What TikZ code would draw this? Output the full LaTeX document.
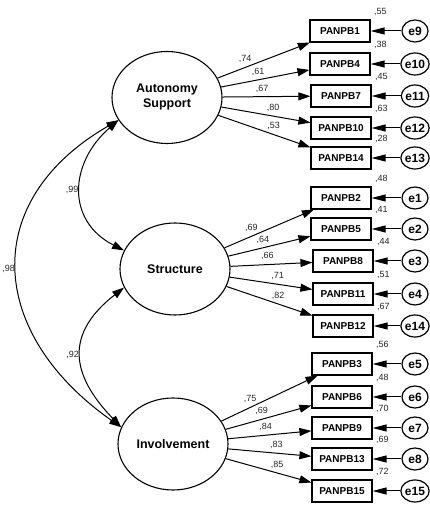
\documentclass[tikz,border=0pt]{standalone}
\usepackage{fontspec}
\setmainfont{Liberation Sans}
\usetikzlibrary{arrows.meta, shapes.geometric}
\tikzset{
  every picture/.style={line width=1pt},
  latent/.style={draw, ellipse, line width=1.1pt, minimum width=110pt, minimum height=92pt, inner sep=0pt, align=center, font=\fontsize{12.5}{15}\selectfont\bfseries},
  ind/.style={draw, line width=1.2pt, minimum width=60pt, minimum height=22pt, inner sep=0pt, font=\fontsize{10}{12}\selectfont\bfseries},
  err/.style={draw, ellipse, line width=1.2pt, minimum width=26pt, minimum height=22pt, inner sep=0pt, font=\fontsize{12}{14}\selectfont\bfseries},
  load/.style={-{Triangle[length=12pt, width=8pt]}},
  errtip/.style={-{Triangle[length=14pt, width=7pt]}},
  cov/.style={{Triangle[length=12pt, width=8pt]}-{Triangle[length=12pt, width=8pt]}},
  coef/.style={font=\fontsize{9}{10}\selectfont, text=black!85, inner sep=1pt, above=3pt},
  var/.style={font=\fontsize{9}{10}\selectfont, text=black!85, inner sep=1pt, anchor=south west, xshift=2pt, yshift=2pt},
  covlab/.style={font=\fontsize{9}{10}\selectfont, text=black!85, inner sep=2pt, left},
}

\begin{document}
\begin{tikzpicture}[x=1pt, y=1pt]
  \useasboundingbox (0,0) rectangle (429,505);
  % factors
  \node[latent] (as) at (167,407.5) {Autonomy\\Support};
  \node[latent] (st) at (175,236) {Structure};
  \node[latent] (inv) at (173,61) {Involvement};
  % autonomy support items
  \node[ind] (b1) at (340,474) {PANPB1};
  \node[ind] (b4) at (340,441) {PANPB4};
  \node[ind] (b7) at (341,409) {PANPB7};
  \node[ind] (b10) at (341,377) {PANPB10};
  \node[ind] (b14) at (341,347) {PANPB14};
  \node[err] (e9) at (415,474) {e9};
  \node[err] (e10) at (415,441) {e10};
  \node[err] (e11) at (415,409) {e11};
  \node[err] (e12) at (415,377) {e12};
  \node[err] (e13) at (415,347) {e13};
  \draw[load] (as) -- node[coef, pos=.3] {,74} (b1);
  \draw[load] (as) -- node[coef, pos=.42] {,61} (b4);
  \draw[load] (as) -- node[coef, pos=.45] {,67} (b7);
  \draw[load] (as) -- node[coef, pos=.58] {,80} (b10);
  \draw[load] (as) -- node[coef, pos=.6] {,53} (b14);
  % structure items
  \node[ind] (b2) at (341,307) {PANPB2};
  \node[ind] (b5) at (341,276) {PANPB5};
  \node[ind] (b8) at (343,244) {PANPB8};
  \node[ind] (b11) at (343,211) {PANPB11};
  \node[ind] (b12) at (343,179) {PANPB12};
  \node[err] (e1) at (415,307) {e1};
  \node[err] (e2) at (415,276) {e2};
  \node[err] (e3) at (415,244) {e3};
  \node[err] (e4) at (415,211) {e4};
  \node[err] (e14) at (415,179) {e14};
  \draw[load] (st) -- node[coef, pos=.3] {,69} (b2);
  \draw[load] (st) -- node[coef, pos=.42] {,64} (b5);
  \draw[load] (st) -- node[coef, pos=.45] {,66} (b8);
  \draw[load] (st) -- node[coef, pos=.58] {,71} (b11);
  \draw[load] (st) -- node[coef, pos=.6] {,82} (b12);
  % involvement items
  \node[ind] (b3) at (342,141) {PANPB3};
  \node[ind] (b6) at (342,108) {PANPB6};
  \node[ind] (b9) at (342,77) {PANPB9};
  \node[ind] (b13) at (342,46) {PANPB13};
  \node[ind] (b15) at (342,14) {PANPB15};
  \node[err] (e5) at (415,141) {e5};
  \node[err] (e6) at (415,108) {e6};
  \node[err] (e7) at (415,77) {e7};
  \node[err] (e8) at (415,46) {e8};
  \node[err] (e15) at (415,14) {e15};
  \draw[load] (inv) -- node[coef, pos=.3] {,75} (b3);
  \draw[load] (inv) -- node[coef, pos=.42] {,69} (b6);
  \draw[load] (inv) -- node[coef, pos=.45] {,84} (b9);
  \draw[load] (inv) -- node[coef, pos=.58] {,83} (b13);
  \draw[load] (inv) -- node[coef, pos=.6] {,85} (b15);
  % error terms
  \draw[errtip] (e9) -- (b1);
  \draw[errtip] (e10) -- (b4);
  \draw[errtip] (e11) -- (b7);
  \draw[errtip] (e12) -- (b10);
  \draw[errtip] (e13) -- (b14);
  \draw[errtip] (e1) -- (b2);
  \draw[errtip] (e2) -- (b5);
  \draw[errtip] (e3) -- (b8);
  \draw[errtip] (e4) -- (b11);
  \draw[errtip] (e14) -- (b12);
  \draw[errtip] (e5) -- (b3);
  \draw[errtip] (e6) -- (b6);
  \draw[errtip] (e7) -- (b9);
  \draw[errtip] (e8) -- (b13);
  \draw[errtip] (e15) -- (b15);
  % squared multiple correlations
  \node[var] at (b1.north east) {,55};
  \node[var] at (b4.north east) {,38};
  \node[var] at (b7.north east) {,45};
  \node[var] at (b10.north east) {,63};
  \node[var] at (b14.north east) {,28};
  \node[var] at (b2.north east) {,48};
  \node[var] at (b5.north east) {,41};
  \node[var] at (b8.north east) {,44};
  \node[var] at (b11.north east) {,51};
  \node[var] at (b12.north east) {,67};
  \node[var] at (b3.north east) {,56};
  \node[var] at (b6.north east) {,48};
  \node[var] at (b9.north east) {,70};
  \node[var] at (b13.north east) {,69};
  \node[var] at (b15.north east) {,72};
  % correlations
  \draw[cov] (as.205) to[out=221, in=153, looseness=1.28] node[covlab] {,99} (st.160);
  \draw[cov] (st.200) to[out=218, in=134, looseness=1.36] node[covlab] {,92} (inv.162);
  \draw[cov] (as.205) to[out=210, in=145, looseness=1.35] node[covlab] {,98} (inv.162);
\end{tikzpicture}
\end{document}
